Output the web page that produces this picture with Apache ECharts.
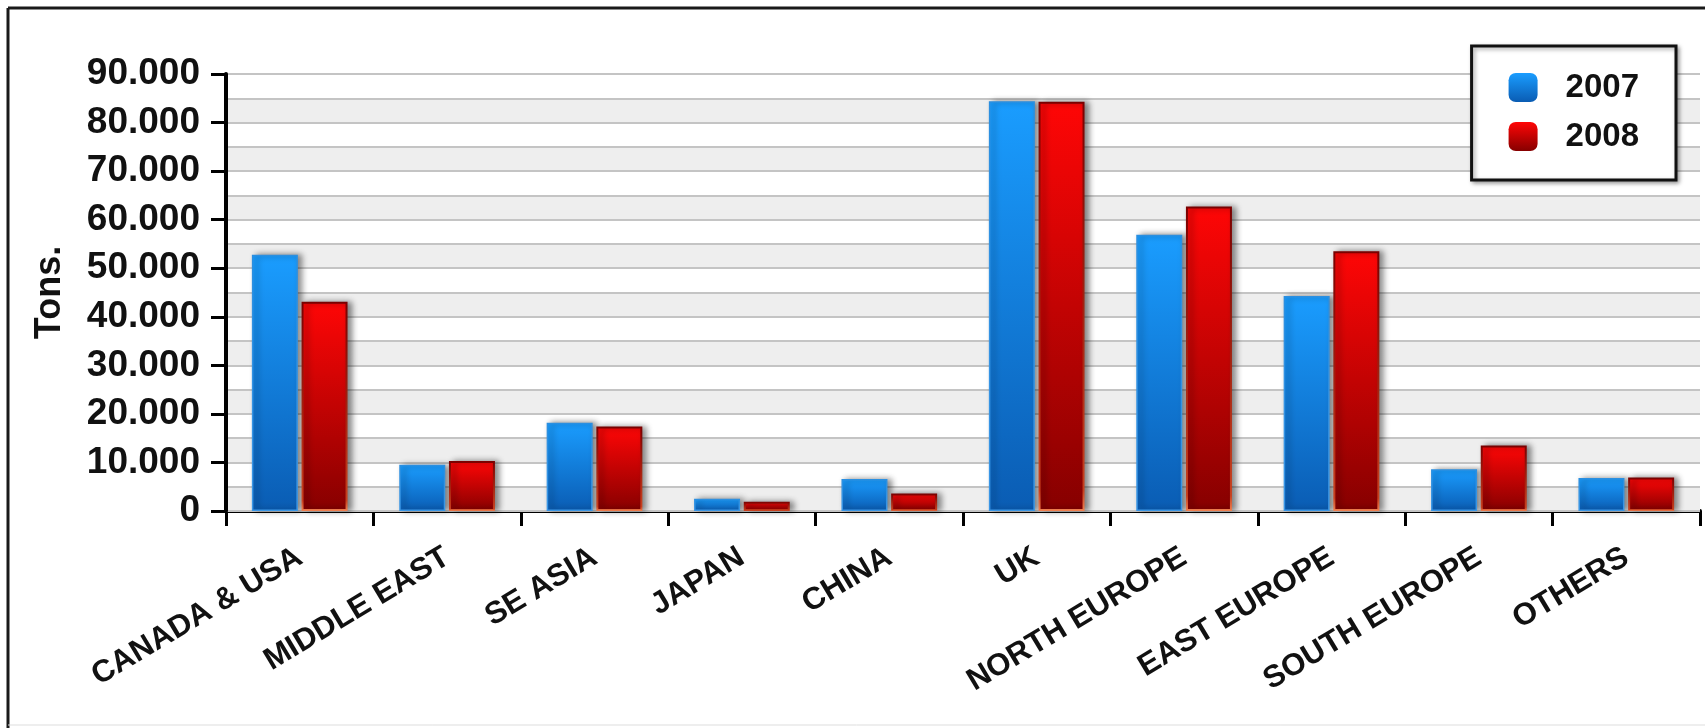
<!DOCTYPE html>
<html>
<head>
<meta charset="utf-8">
<script src="https://cdn.jsdelivr.net/npm/echarts@6/dist/echarts.min.js"></script>
<style>
  html, body { margin: 0; padding: 0; background: #ffffff; }
  #chart { width: 1705px; height: 728px; }
</style>
</head>
<body>
<div id="chart"></div>
<script>
// Exports by destination, tons
const categories = ['CANADA & USA', 'MIDDLE EAST', 'SE ASIA', 'JAPAN', 'CHINA', 'UK',
  'NORTH EUROPE', 'EAST EUROPE', 'SOUTH EUROPE', 'OTHERS'];
const seriesNames = ['2007', '2008'];
const values2007 = [52800, 9500, 18200, 2500, 6600, 84400, 56900, 44300, 8600, 6800];
const values2008 = [43100, 10300, 17400, 1900, 3600, 84300, 62700, 53500, 13500, 6900];
const yMin = 0;
const yMax = 90000;
const yLabelStep = 10000;
const yBandStep = 5000;

const FONT = "'Liberation Sans', Arial, sans-serif";

// thousands separator as dot: 90000 -> "90.000"
function fmtTons(v) {
  if (v % yLabelStep !== 0) return '';
  return String(v).replace(/\B(?=(\d{3})+(?!\d))/g, '.');
}

const blueFill = new echarts.graphic.LinearGradient(0, 0, 0, 1, [
  { offset: 0, color: '#1a9dff' },
  { offset: 1, color: '#0a5cb3' }
]);
const redFill = new echarts.graphic.LinearGradient(0, 0, 0, 1, [
  { offset: 0, color: '#ff0606' },
  { offset: 1, color: '#860000' }
]);
const blueEdge = new echarts.graphic.LinearGradient(0, 0, 0, 1, [
  { offset: 0, color: '#2b8fe0' },
  { offset: 1, color: '#3a96e6' }
]);
const redEdge = new echarts.graphic.LinearGradient(0, 0, 0, 1, [
  { offset: 0, color: '#7a0000' },
  { offset: 0.95, color: '#c8401e' },
  { offset: 1, color: '#f08050' }
]);

const chart = echarts.init(document.getElementById('chart'), null, { renderer: 'canvas' });

chart.setOption({
  backgroundColor: '#ffffff',
  animation: false,
  textStyle: { fontFamily: FONT },
  graphic: [
    // frame around the chart
    { type: 'line', shape: { x1: 8, y1: 8, x2: 1705, y2: 8 }, style: { stroke: '#1a1a1a', lineWidth: 3 }, z: 100 },
    { type: 'line', shape: { x1: 8, y1: 8, x2: 8, y2: 728 }, style: { stroke: '#1a1a1a', lineWidth: 3 }, z: 100 },
    { type: 'line', shape: { x1: 8, y1: 725, x2: 1705, y2: 725 }, style: { stroke: '#dddddd', lineWidth: 1 }, z: 100 }
  ],
  grid: { left: 226, right: 5, top: 74, bottom: 217, containLabel: false },
  legend: {
    data: seriesNames,
    orient: 'vertical',
    right: 29,
    top: 46,
    padding: [25, 37, 27, 37],
    itemGap: 16,
    itemWidth: 29,
    itemHeight: 29,
    icon: 'roundRect',
    backgroundColor: '#ffffff',
    borderColor: '#111111',
    borderWidth: 3,
    shadowColor: 'rgba(0,0,0,0.35)',
    shadowBlur: 4,
    shadowOffsetX: 2,
    shadowOffsetY: 2,
    itemStyle: { borderWidth: 0, shadowBlur: 0, shadowOffsetX: 0 },
    textStyle: {
      fontFamily: FONT, fontSize: 33, fontWeight: 'bold', color: '#111111',
      lineHeight: 29, padding: [0, 0, 0, 23]
    }
  },
  xAxis: {
    type: 'category',
    data: categories,
    boundaryGap: true,
    axisLine: { show: true, lineStyle: { color: '#000000', width: 4 } },
    axisTick: { show: true, alignWithLabel: false, length: 15, lineStyle: { color: '#000000', width: 3 } },
    axisLabel: {
      interval: 0,
      rotate: 31,
      margin: 44,
      fontFamily: FONT,
      fontSize: 31,
      fontWeight: 'bold',
      color: '#111111'
    },
    splitLine: { show: false }
  },
  yAxis: [
    {
      type: 'value',
      min: yMin,
      max: yMax,
      interval: yLabelStep,
      position: 'left',
      name: 'Tons.',
      nameLocation: 'middle',
      nameGap: 158,
      nameTextStyle: { fontFamily: FONT, fontSize: 36, fontWeight: 'bold', color: '#111111' },
      axisLine: { show: true, lineStyle: { color: '#000000', width: 4 } },
      axisTick: { show: true, length: 15, lineStyle: { color: '#000000', width: 3 } },
      axisLabel: {
        formatter: fmtTons,
        margin: 26,
        fontFamily: FONT,
        fontSize: 37,
        fontWeight: 'bold',
        color: '#111111'
      },
      splitLine: { show: false },
      splitArea: { show: false },
      z: 3
    },
    {
      // 5.000-ton bands behind the bars
      type: 'value',
      min: yMin,
      max: yMax,
      interval: yBandStep,
      position: 'left',
      axisLine: { show: false },
      axisTick: { show: false },
      axisLabel: { show: false },
      splitLine: { show: true, lineStyle: { color: '#c4c4c4', width: 2 } },
      splitArea: { show: true, areaStyle: { color: ['#eeeeee', '#ffffff'] } },
      z: 1
    }
  ],
  series: [
    {
      name: seriesNames[0],
      type: 'bar',
      yAxisIndex: 0,
      data: values2007,
      barWidth: 46,
      barGap: '8%',
      itemStyle: {
        color: blueFill,
        borderColor: blueEdge,
        borderWidth: 1.5,
        shadowColor: 'rgba(0,0,0,0.45)',
        shadowBlur: 6,
        shadowOffsetX: 4,
        shadowOffsetY: 0
      },
      z: 4
    },
    {
      name: seriesNames[1],
      type: 'bar',
      yAxisIndex: 0,
      data: values2008,
      barWidth: 46,
      barGap: '8%',
      itemStyle: {
        color: redFill,
        borderColor: redEdge,
        borderWidth: 2,
        shadowColor: 'rgba(0,0,0,0.45)',
        shadowBlur: 6,
        shadowOffsetX: 4,
        shadowOffsetY: 0
      },
      z: 4
    }
  ]
});
</script>
</body>
</html>
